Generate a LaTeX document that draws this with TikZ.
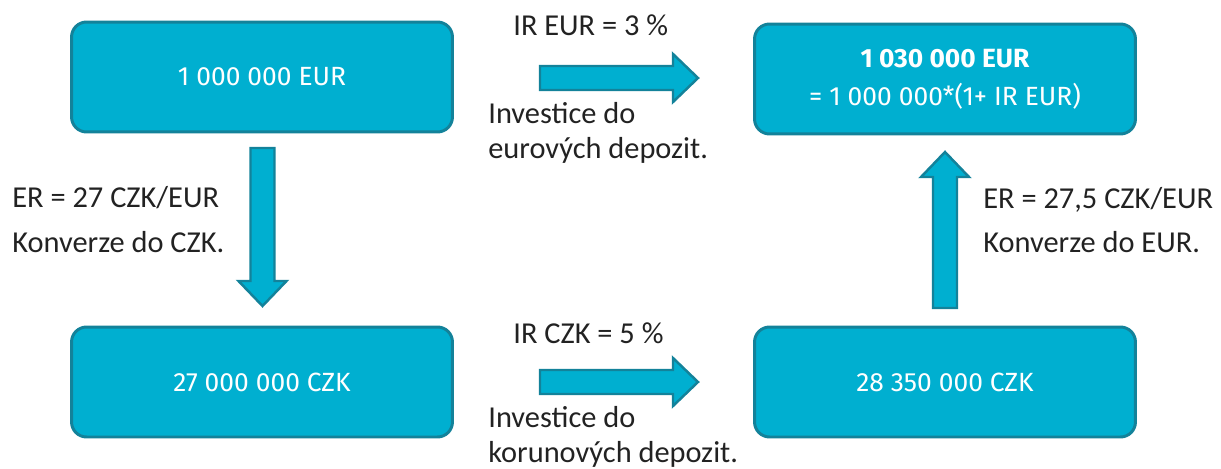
\documentclass[tikz,border=0pt]{standalone}
\usepackage{fontspec}
\setmainfont{Carlito}
\newfontfamily\boxfont{Fira Sans}
\usetikzlibrary{positioning}

\definecolor{tealfill}{HTML}{00AFD0}
\definecolor{tealline}{HTML}{13829A}
\definecolor{labeltext}{HTML}{222222}

\tikzset{
	moneybox/.style={draw=tealline, fill=tealfill, line width=1.7pt, rounded corners=0.3cm,
		minimum width=7.62cm, minimum height=2.2cm, align=center, text=white,
		font=\boxfont\fontsize{15}{21.5}\selectfont},
	arrowbody/.style={draw=tealline, fill=tealfill, line width=1.4pt, line join=miter},
	steplabel/.style={anchor=base west, inner sep=0pt, text=labeltext,
		font=\fontsize{17.3}{20}\selectfont},
	pics/blockarrow/.style={code={
		\draw[arrowbody] (0,-12) -- (#1-25,-12) -- (#1-25,-24) -- (#1,0)
			-- (#1-25,24) -- (#1-25,12) -- (0,12) -- cycle;
	}}
}

\begin{document}
\begin{tikzpicture}[x=0.02cm, y=0.02cm]

	\useasboundingbox (0,0) rectangle (1221,468);

	% amounts
	\node[moneybox] (eur0) at (262,391) {1 000 000 EUR};
	\node[moneybox] (czk0) at (262,86) {27 000 000 CZK};
	\node[moneybox] (czk1) at (945,86) {28 350 000 CZK};
	\node[moneybox] (eur1) at (945,389) {\textbf{1 030 000 EUR}\\= 1 000 000*(1+ IR EUR)};

	% arrows
	\coordinate (T1) at (540,390);
	\coordinate (T2) at (540,86);
	\coordinate (D1) at (262.5,320);
	\coordinate (U1) at (945,160);

	\pic at (T1) {blockarrow=158};
	\pic at (T2) {blockarrow=158};
	\pic[rotate=-90] at (D1) {blockarrow=158};
	\pic[rotate=90] at (U1) {blockarrow=156};

	% labels
	\node[steplabel] (ireur) at (513,433) {IR EUR = 3 \%};
	\node[steplabel] (inveur) at (488,345) {Investice do};
	\node[steplabel] (depeur) at (488,310) {eurových depozit.};

	\node[steplabel] (irczk) at (513,125) {IR CZK = 5 \%};
	\node[steplabel] (invczk) at (488,41) {Investice do};
	\node[steplabel] (depczk) at (488,6) {korunových depozit.};

	\node[steplabel] (erczk) at (12,261) {ER = 27 CZK/EUR};
	\node[steplabel] (convczk) at (12,216) {Konverze do CZK.};

	\node[steplabel] (ereur) at (983,260) {ER = 27,5 CZK/EUR};
	\node[steplabel] (conveur) at (983,216) {Konverze do EUR.};

\end{tikzpicture}
\end{document}
